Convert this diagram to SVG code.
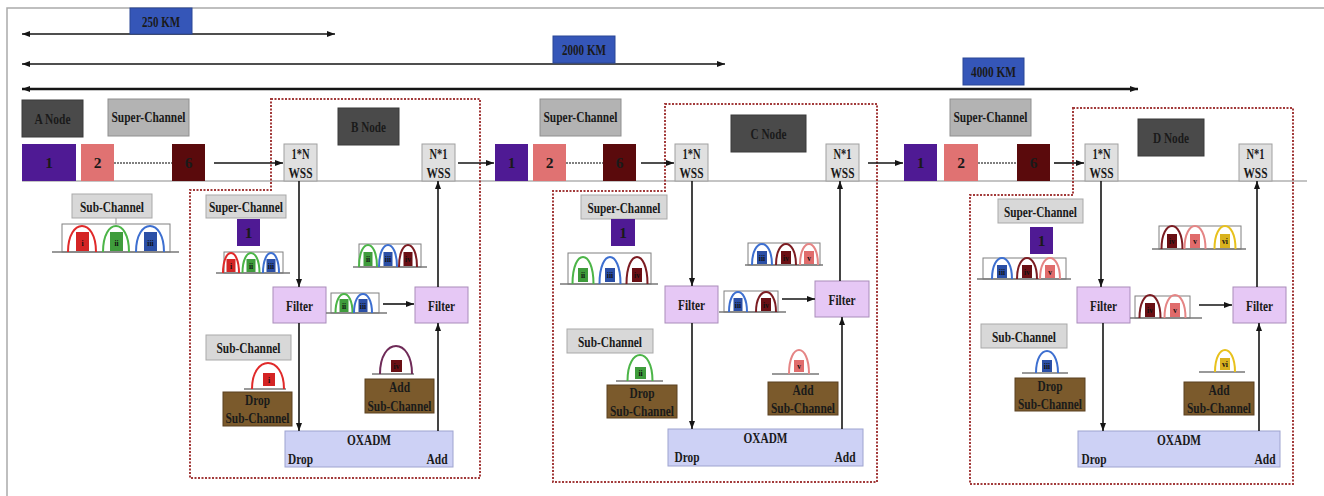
<svg xmlns="http://www.w3.org/2000/svg" width="1324" height="496" viewBox="0 0 1324 496">
<defs>
<style>
.t{font-family:"Liberation Serif","Times New Roman",serif;font-weight:bold;font-size:15.5px;fill:#1a1a1a;text-anchor:middle}
.q{font-family:"Liberation Serif","Times New Roman",serif;font-weight:bold;font-size:7.5px;fill:#111;text-anchor:middle}
.km{fill:#3556b8;stroke:#2a4796;stroke-width:1}
.dk{fill:#4a4a4a;stroke:#3a3a3a;stroke-width:1}
.sc{fill:#b3b3b3;stroke:#8f8f8f;stroke-width:1}
.lg{fill:#d8d8d8;stroke:#a9a9a9;stroke-width:1}
.wss{fill:#e0e0e0;stroke:#a0a0a0;stroke-width:1}
.flt{fill:#e6c8f5;stroke:#a98cba;stroke-width:1}
.ox{fill:#cdd1f5;stroke:#9ea3cf;stroke-width:1}
.br{fill:#7b5a2c;stroke:#5b4020;stroke-width:1}
.p1{fill:#4f1a94}.p2{fill:#e07272}.p6{fill:#5a0a0c}
.bk{fill:none;stroke:#808080;stroke-width:1}
.bl{stroke:#777;stroke-width:1.5}
.arc{fill:none;stroke-width:2}
.c1{stroke:#e02a2a}.c2{stroke:#4cb548}.c3{stroke:#3d6fd0}.c4{stroke:#7c1c22}.c5{stroke:#e58585}.c6{stroke:#e8c11c}.c7{stroke:#6f2b58}
.f1{fill:#d42424}.f2{fill:#3f9c3c}.f3{fill:#2b4fa6}.f4{fill:#6a0f14}.f5{fill:#e06c6c}.f6{fill:#d9b21e}
.ar{stroke:#151515;stroke-width:1.6;fill:none;marker-end:url(#ah)}
.dist{stroke:#151515;fill:none;marker-start:url(#ah);marker-end:url(#ah)}
.node{fill:none;stroke:#a23a3a;stroke-width:2;stroke-dasharray:2 1.5}
</style>
<marker id="ah" viewBox="0 0 8 6" markerUnits="userSpaceOnUse" markerWidth="8" markerHeight="6" refX="8" refY="3" orient="auto-start-reverse">
<path d="M0 0 L8 3 L0 6 Z" fill="#151515"/>
</marker>
</defs>
<rect width="1324" height="496" fill="#fff"/>
<path d="M7 496 V8 H1324" fill="none" stroke="#aaa" stroke-width="1.5"/>

<!-- distance scale -->
<g id="distances">
<line class="dist" x1="22" y1="34" x2="335" y2="34" stroke-width="1.6"/>
<line class="dist" x1="22" y1="64" x2="725" y2="64" stroke-width="1.6"/>
<line class="dist" x1="22" y1="89" x2="1138" y2="89" stroke-width="2.4"/>
<rect class="km" x="130" y="8" width="62" height="26"/>
<text class="t" x="161" y="26.5" textLength="38" lengthAdjust="spacingAndGlyphs">250 KM</text>
<rect class="km" x="553" y="36" width="62" height="27"/>
<text class="t" x="584" y="55" textLength="44" lengthAdjust="spacingAndGlyphs">2000 KM</text>
<rect class="km" x="963" y="58" width="61" height="27"/>
<text class="t" x="993.5" y="77" textLength="45" lengthAdjust="spacingAndGlyphs">4000 KM</text>
</g>

<!-- fibre line -->
<line x1="22" y1="181" x2="1307" y2="181" stroke="#8a8a8a" stroke-width="1.2"/>

<!-- node borders -->
<g id="borders">
<path class="node" d="M271 99 H480 V478 H190 V190 H271 Z"/>
<path class="node" d="M665 104 H877 V482 H553 V191 H665 Z"/>
<path class="node" d="M1073 108 H1293 V484 H970 V195 H1073 Z"/>
</g>

<!-- A node and first super-channel -->
<g id="node-a">
<rect class="dk" x="22" y="100" width="61" height="37"/>
<text class="t" x="52.5" y="124" textLength="36" lengthAdjust="spacingAndGlyphs">A Node</text>
</g>
<g id="super-ab">
<rect class="sc" x="108" y="99" width="81" height="37"/>
<text class="t" x="148.5" y="122" textLength="74" lengthAdjust="spacingAndGlyphs">Super-Channel</text>
<rect class="p1" x="22" y="144" width="54" height="37"/><text class="t" x="49" y="168">1</text>
<rect class="p2" x="81" y="144" width="33" height="37"/><text class="t" x="97.5" y="168">2</text>
<line x1="114" y1="163" x2="172" y2="163" stroke="#555" stroke-width="1.5" stroke-dasharray="2 1"/>
<rect class="p6" x="172" y="144" width="33" height="37"/><text class="t" x="188.5" y="168">6</text>
</g>
<g id="legend-a">
<rect class="lg" x="72" y="194" width="80" height="24"/>
<text class="t" x="112" y="211.5" textLength="64" lengthAdjust="spacingAndGlyphs">Sub-Channel</text>
<line x1="116" y1="218" x2="116" y2="224" stroke="#999" stroke-width="1"/>
<rect class="bk" x="62" y="224" width="108" height="28"/>
<line class="bl" x1="52" y1="252" x2="179" y2="252"/>
<rect class="f1" x="76" y="232" width="13" height="19"/><text class="q" x="82.5" y="246" font-size="9">i</text>
<rect class="f2" x="110" y="232" width="13" height="19"/><text class="q" x="116.5" y="246" font-size="9">ii</text>
<rect class="f3" x="144" y="232" width="13" height="19"/><text class="q" x="150.5" y="246" font-size="9">iii</text>
<path class="arc c1" d="M68 252 C68 217.4 96 217.4 96 252"/>
<path class="arc c2" d="M103 252 C103 217.4 129 217.4 129 252"/>
<path class="arc c3" d="M136 252 C136 217.4 164 217.4 164 252"/>
</g>

<!-- B node -->
<g id="node-b">
<rect class="wss" x="284" y="144" width="33" height="37"/>
<text class="t" x="300.5" y="159" textLength="18" lengthAdjust="spacingAndGlyphs">1*N</text>
<text class="t" x="300.5" y="177.5" textLength="24" lengthAdjust="spacingAndGlyphs">WSS</text>
<rect class="dk" x="338" y="108" width="61" height="37"/>
<text class="t" x="368.5" y="131.5" textLength="35" lengthAdjust="spacingAndGlyphs">B Node</text>
<rect class="wss" x="422" y="144" width="33" height="37"/>
<text class="t" x="438.5" y="159" textLength="18" lengthAdjust="spacingAndGlyphs">N*1</text>
<text class="t" x="438.5" y="177.5" textLength="24" lengthAdjust="spacingAndGlyphs">WSS</text>

<rect class="lg" x="206" y="195" width="80" height="23"/>
<text class="t" x="246" y="212" textLength="74" lengthAdjust="spacingAndGlyphs">Super-Channel</text>
<rect class="p1" x="237" y="219" width="23" height="27"/><text class="t" x="248.5" y="238">1</text>
<rect class="bk" x="224" y="252" width="59" height="21"/>
<line class="bl" x1="216" y1="273" x2="290" y2="273"/>
<rect class="f1" x="226.5" y="259" width="9" height="13"/><text class="q" x="231" y="269">i</text>
<rect class="f2" x="246.5" y="259" width="9" height="13"/><text class="q" x="251" y="269">ii</text>
<rect class="f3" x="266.5" y="259" width="9" height="13"/><text class="q" x="271" y="269">iii</text>
<path class="arc c1" d="M223 273 C223 246.4 239 246.4 239 273"/>
<path class="arc c2" d="M242.5 273 C242.5 246.4 259.5 246.4 259.5 273"/>
<path class="arc c3" d="M263 273 C263 246.4 279 246.4 279 273"/>

<rect class="bk" x="359" y="244" width="62" height="23"/>
<line class="bl" x1="353" y1="267" x2="427" y2="267"/>
<rect class="f2" x="363.5" y="252" width="9" height="14"/><text class="q" x="368" y="262">ii</text>
<rect class="f3" x="383.5" y="252" width="9" height="14"/><text class="q" x="388" y="262">iii</text>
<rect class="f4" x="403.5" y="252" width="9" height="14"/><text class="q" x="408" y="262">iv</text>
<path class="arc c2" d="M359 267 C359 237.7 377 237.7 377 267"/>
<path class="arc c3" d="M379 267 C379 237.7 397 237.7 397 267"/>
<path class="arc c4" d="M399 267 C399 237.7 417 237.7 417 267"/>

<rect class="flt" x="273" y="287" width="53" height="36"/>
<text class="t" x="299.5" y="310.5" textLength="27" lengthAdjust="spacingAndGlyphs">Filter</text>
<rect class="flt" x="415" y="287" width="53" height="36"/>
<text class="t" x="441.5" y="310.5" textLength="27" lengthAdjust="spacingAndGlyphs">Filter</text>
<rect class="bk" x="331" y="293" width="48" height="20"/>
<line class="bl" x1="326" y1="313" x2="387" y2="313"/>
<rect class="f2" x="339.5" y="299" width="9" height="13"/><text class="q" x="344" y="309">ii</text>
<rect class="f3" x="358.5" y="299" width="9" height="13"/><text class="q" x="363" y="309">iii</text>
<path class="arc c2" d="M335.5 313 C335.5 287.7 352.5 287.7 352.5 313"/>
<path class="arc c3" d="M354 313 C354 287.7 372 287.7 372 313"/>

<rect class="lg" x="206" y="335" width="85" height="25"/>
<text class="t" x="248.5" y="352.5" textLength="64" lengthAdjust="spacingAndGlyphs">Sub-Channel</text>
<line class="bl" x1="244" y1="389" x2="286" y2="389"/>
<rect class="f1" x="263" y="373" width="12" height="13"/><text class="q" x="269" y="383">i</text>
<path class="arc c1" d="M252 389 C252 354.4 284 354.4 284 389"/>
<rect class="br" x="223" y="392" width="69" height="34"/>
<text class="t" x="257.5" y="405" textLength="25" lengthAdjust="spacingAndGlyphs">Drop</text>
<text class="t" x="257.5" y="423" textLength="64" lengthAdjust="spacingAndGlyphs">Sub-Channel</text>

<line class="bl" x1="372" y1="374" x2="414" y2="374"/>
<rect class="f4" x="391" y="360" width="11" height="12"/><text class="q" x="396.5" y="369">iv</text>
<path class="arc c7" d="M380 374 C380 336.7 412 336.7 412 374"/>
<rect class="br" x="365" y="379" width="69" height="34"/>
<text class="t" x="399.5" y="392" textLength="21" lengthAdjust="spacingAndGlyphs">Add</text>
<text class="t" x="399.5" y="410.5" textLength="64" lengthAdjust="spacingAndGlyphs">Sub-Channel</text>

<rect class="ox" x="285" y="431" width="168" height="36"/>
<text class="t" x="369" y="445" textLength="44" lengthAdjust="spacingAndGlyphs">OXADM</text>
<text class="t" x="300.5" y="464" textLength="25" lengthAdjust="spacingAndGlyphs">Drop</text>
<text class="t" x="437" y="464" textLength="21" lengthAdjust="spacingAndGlyphs">Add</text>
</g>

<!-- super-channel between B and C -->
<g id="super-bc">
<rect class="sc" x="540" y="99" width="81" height="37"/>
<text class="t" x="580.5" y="122" textLength="74" lengthAdjust="spacingAndGlyphs">Super-Channel</text>
<rect class="p1" x="495" y="144" width="33" height="37"/><text class="t" x="511.5" y="168">1</text>
<rect class="p2" x="533" y="144" width="33" height="37"/><text class="t" x="549.5" y="168">2</text>
<line x1="566" y1="163" x2="603" y2="163" stroke="#555" stroke-width="1.5" stroke-dasharray="2 1"/>
<rect class="p6" x="603" y="144" width="33" height="37"/><text class="t" x="619.5" y="168">6</text>
</g>

<!-- C node -->
<g id="node-c">
<rect class="wss" x="675" y="144" width="33" height="37"/>
<text class="t" x="691.5" y="159" textLength="18" lengthAdjust="spacingAndGlyphs">1*N</text>
<text class="t" x="691.5" y="177.5" textLength="24" lengthAdjust="spacingAndGlyphs">WSS</text>
<rect class="dk" x="731" y="115" width="75" height="37"/>
<text class="t" x="768.5" y="138.5" textLength="36" lengthAdjust="spacingAndGlyphs">C Node</text>
<rect class="wss" x="826" y="144" width="33" height="37"/>
<text class="t" x="842.5" y="159" textLength="18" lengthAdjust="spacingAndGlyphs">N*1</text>
<text class="t" x="842.5" y="177.5" textLength="24" lengthAdjust="spacingAndGlyphs">WSS</text>

<rect class="lg" x="581" y="195" width="86" height="24"/>
<text class="t" x="624" y="212.5" textLength="73" lengthAdjust="spacingAndGlyphs">Super-Channel</text>
<rect class="p1" x="611" y="219" width="24" height="27"/><text class="t" x="623" y="238">1</text>
<rect class="bk" x="568" y="253" width="83" height="31"/>
<line class="bl" x1="560" y1="284" x2="658" y2="284"/>
<rect class="f2" x="578" y="268" width="10" height="14"/><text class="q" x="583" y="278">ii</text>
<rect class="f3" x="605" y="268" width="10" height="14"/><text class="q" x="610" y="278">iii</text>
<rect class="f4" x="632" y="268" width="10" height="14"/><text class="q" x="637" y="278">iv</text>
<path class="arc c2" d="M572.5 284 C572.5 248 593.5 248 593.5 284"/>
<path class="arc c3" d="M599.5 284 C599.5 248 620.5 248 620.5 284"/>
<path class="arc c4" d="M626.5 284 C626.5 248 647.5 248 647.5 284"/>

<rect class="bk" x="748" y="243" width="72" height="22"/>
<line class="bl" x1="745" y1="265" x2="823" y2="265"/>
<rect class="f3" x="757" y="251" width="10" height="13"/><text class="q" x="762" y="261">iii</text>
<rect class="f4" x="781" y="251" width="10" height="13"/><text class="q" x="786" y="261">iv</text>
<rect class="f5" x="804" y="251" width="10" height="13"/><text class="q" x="809" y="261">v</text>
<path class="arc c3" d="M752 265 C752 237 772 237 772 265"/>
<path class="arc c4" d="M776 265 C776 237 796 237 796 265"/>
<path class="arc c5" d="M800 265 C800 237 818 237 818 265"/>

<rect class="flt" x="665" y="286" width="53" height="37"/>
<text class="t" x="691.5" y="310" textLength="27" lengthAdjust="spacingAndGlyphs">Filter</text>
<rect class="flt" x="815" y="281" width="54" height="36"/>
<text class="t" x="842" y="304.5" textLength="27" lengthAdjust="spacingAndGlyphs">Filter</text>
<rect class="bk" x="724" y="291" width="54" height="21"/>
<line class="bl" x1="719" y1="312" x2="786" y2="312"/>
<rect class="f3" x="733.5" y="298" width="9" height="13"/><text class="q" x="738" y="308">iii</text>
<rect class="f4" x="761" y="298" width="10" height="13"/><text class="q" x="766" y="308">iv</text>
<path class="arc c3" d="M729 312 C729 285.4 747 285.4 747 312"/>
<path class="arc c4" d="M756 312 C756 285.4 776 285.4 776 312"/>

<rect class="lg" x="567" y="329" width="86" height="24"/>
<text class="t" x="610" y="346.5" textLength="64" lengthAdjust="spacingAndGlyphs">Sub-Channel</text>
<line class="bl" x1="616" y1="381" x2="663" y2="381"/>
<rect class="f2" x="635" y="367" width="11" height="12"/><text class="q" x="640.5" y="376">ii</text>
<path class="arc c2" d="M627.5 381 C627.5 346.4 652.5 346.4 652.5 381"/>
<rect class="br" x="607" y="385" width="70" height="33"/>
<text class="t" x="642" y="398" textLength="25" lengthAdjust="spacingAndGlyphs">Drop</text>
<text class="t" x="642" y="415.5" textLength="64" lengthAdjust="spacingAndGlyphs">Sub-Channel</text>

<line class="bl" x1="772" y1="374" x2="819" y2="374"/>
<rect class="f5" x="794" y="360" width="10" height="12"/><text class="q" x="799" y="369">v</text>
<path class="arc c5" d="M789 374 C789 342 809 342 809 374"/>
<rect class="br" x="768" y="382" width="70" height="33"/>
<text class="t" x="803" y="395" textLength="21" lengthAdjust="spacingAndGlyphs">Add</text>
<text class="t" x="803" y="412.5" textLength="64" lengthAdjust="spacingAndGlyphs">Sub-Channel</text>

<rect class="ox" x="668" y="429" width="195" height="37"/>
<text class="t" x="765.5" y="443" textLength="44" lengthAdjust="spacingAndGlyphs">OXADM</text>
<text class="t" x="687" y="462" textLength="25" lengthAdjust="spacingAndGlyphs">Drop</text>
<text class="t" x="845" y="462" textLength="21" lengthAdjust="spacingAndGlyphs">Add</text>
</g>

<!-- super-channel between C and D -->
<g id="super-cd">
<rect class="sc" x="950" y="99" width="81" height="37"/>
<text class="t" x="990.5" y="122" textLength="74" lengthAdjust="spacingAndGlyphs">Super-Channel</text>
<rect class="p1" x="904" y="144" width="33" height="37"/><text class="t" x="920.5" y="168">1</text>
<rect class="p2" x="944" y="144" width="34" height="37"/><text class="t" x="961" y="168">2</text>
<line x1="978" y1="163" x2="1017" y2="163" stroke="#555" stroke-width="1.5" stroke-dasharray="2 1"/>
<rect class="p6" x="1017" y="144" width="33" height="37"/><text class="t" x="1033.5" y="168">6</text>
</g>

<!-- D node -->
<g id="node-d">
<rect class="wss" x="1085" y="144" width="33" height="37"/>
<text class="t" x="1101.5" y="159" textLength="18" lengthAdjust="spacingAndGlyphs">1*N</text>
<text class="t" x="1101.5" y="177.5" textLength="24" lengthAdjust="spacingAndGlyphs">WSS</text>
<rect class="dk" x="1138" y="119" width="66" height="37"/>
<text class="t" x="1171" y="142.5" textLength="36" lengthAdjust="spacingAndGlyphs">D Node</text>
<rect class="wss" x="1239" y="144" width="33" height="37"/>
<text class="t" x="1255.5" y="159" textLength="18" lengthAdjust="spacingAndGlyphs">N*1</text>
<text class="t" x="1255.5" y="177.5" textLength="24" lengthAdjust="spacingAndGlyphs">WSS</text>

<rect class="lg" x="998" y="199" width="85" height="24"/>
<text class="t" x="1040.5" y="216.5" textLength="73" lengthAdjust="spacingAndGlyphs">Super-Channel</text>
<rect class="p1" x="1030" y="227" width="23" height="27"/><text class="t" x="1041.5" y="246">1</text>
<rect class="bk" x="983" y="258" width="83" height="21"/>
<line class="bl" x1="977" y1="279" x2="1071" y2="279"/>
<rect class="f3" x="997" y="265" width="10" height="13"/><text class="q" x="1002" y="275">iii</text>
<rect class="f4" x="1022" y="265" width="10" height="13"/><text class="q" x="1027" y="275">iv</text>
<rect class="f5" x="1045" y="265" width="10" height="13"/><text class="q" x="1050" y="275">v</text>
<path class="arc c3" d="M992 279 C992 251 1012 251 1012 279"/>
<path class="arc c4" d="M1017 279 C1017 251 1037 251 1037 279"/>
<path class="arc c5" d="M1040 279 C1040 251 1060 251 1060 279"/>

<rect class="bk" x="1159" y="226" width="82" height="23"/>
<line class="bl" x1="1152" y1="249" x2="1246" y2="249"/>
<rect class="f4" x="1167" y="234" width="10" height="14"/><text class="q" x="1172" y="244">iv</text>
<rect class="f5" x="1190" y="234" width="10" height="14"/><text class="q" x="1195" y="244">v</text>
<rect class="f6" x="1220" y="234" width="10" height="14"/><text class="q" x="1225" y="244">vi</text>
<path class="arc c4" d="M1161.5 249 C1161.5 218.4 1182.5 218.4 1182.5 249"/>
<path class="arc c5" d="M1184.5 249 C1184.5 218.4 1205.5 218.4 1205.5 249"/>
<path class="arc c6" d="M1214.5 249 C1214.5 218.4 1235.5 218.4 1235.5 249"/>

<rect class="flt" x="1077" y="287" width="53" height="36"/>
<text class="t" x="1103.5" y="310.5" textLength="27" lengthAdjust="spacingAndGlyphs">Filter</text>
<rect class="flt" x="1233" y="287" width="53" height="36"/>
<text class="t" x="1259.5" y="310.5" textLength="27" lengthAdjust="spacingAndGlyphs">Filter</text>
<rect class="bk" x="1135" y="296" width="55" height="22"/>
<line class="bl" x1="1130" y1="318" x2="1202" y2="318"/>
<rect class="f4" x="1145" y="303" width="10" height="14"/><text class="q" x="1150" y="313">iv</text>
<rect class="f5" x="1170" y="303" width="10" height="14"/><text class="q" x="1175" y="313">v</text>
<path class="arc c4" d="M1139.5 318 C1139.5 287.4 1160.5 287.4 1160.5 318"/>
<path class="arc c5" d="M1164.5 318 C1164.5 287.4 1185.5 287.4 1185.5 318"/>

<rect class="lg" x="981" y="324" width="86" height="24"/>
<text class="t" x="1024" y="341.5" textLength="64" lengthAdjust="spacingAndGlyphs">Sub-Channel</text>
<line class="bl" x1="1022" y1="373" x2="1068" y2="373"/>
<rect class="f3" x="1042" y="360" width="10" height="12"/><text class="q" x="1047" y="369">iii</text>
<path class="arc c3" d="M1036 373 C1036 343.7 1058 343.7 1058 373"/>
<rect class="br" x="1015" y="378" width="70" height="33"/>
<text class="t" x="1050" y="391" textLength="25" lengthAdjust="spacingAndGlyphs">Drop</text>
<text class="t" x="1050" y="408.5" textLength="64" lengthAdjust="spacingAndGlyphs">Sub-Channel</text>

<line class="bl" x1="1199" y1="372" x2="1245" y2="372"/>
<rect class="f6" x="1220" y="358" width="10" height="12"/><text class="q" x="1225" y="367">vi</text>
<path class="arc c6" d="M1215 372 C1215 342.7 1235 342.7 1235 372"/>
<rect class="br" x="1184" y="382" width="70" height="33"/>
<text class="t" x="1219" y="395" textLength="21" lengthAdjust="spacingAndGlyphs">Add</text>
<text class="t" x="1219" y="412.5" textLength="64" lengthAdjust="spacingAndGlyphs">Sub-Channel</text>

<rect class="ox" x="1078" y="431" width="202" height="36"/>
<text class="t" x="1179" y="445" textLength="44" lengthAdjust="spacingAndGlyphs">OXADM</text>
<text class="t" x="1094" y="464" textLength="25" lengthAdjust="spacingAndGlyphs">Drop</text>
<text class="t" x="1265" y="464" textLength="21" lengthAdjust="spacingAndGlyphs">Add</text>
</g>

<!-- connectors -->
<g id="connectors">
<line class="ar" x1="214" y1="163" x2="283" y2="163"/>
<line class="ar" x1="458" y1="163" x2="494" y2="163"/>
<line class="ar" x1="641" y1="163" x2="674" y2="163"/>
<line class="ar" x1="868" y1="163" x2="903" y2="163"/>
<line class="ar" x1="1054" y1="163" x2="1084" y2="163"/>

<line class="ar" x1="299" y1="181" x2="299" y2="287"/>
<line class="ar" x1="383" y1="304" x2="414" y2="304"/>
<line class="ar" x1="438" y1="287" x2="438" y2="181"/>
<line class="ar" x1="299" y1="323" x2="299" y2="431"/>
<line class="ar" x1="438" y1="431" x2="438" y2="323"/>

<line class="ar" x1="692" y1="181" x2="692" y2="286"/>
<line class="ar" x1="782" y1="299" x2="815" y2="299"/>
<line class="ar" x1="840" y1="281" x2="840" y2="181"/>
<line class="ar" x1="692" y1="323" x2="692" y2="429"/>
<line class="ar" x1="842" y1="429" x2="842" y2="317"/>

<line class="ar" x1="1101" y1="181" x2="1101" y2="287"/>
<line class="ar" x1="1199" y1="305" x2="1232" y2="305"/>
<line class="ar" x1="1257" y1="287" x2="1257" y2="181"/>
<line class="ar" x1="1103" y1="323" x2="1103" y2="431"/>
<line class="ar" x1="1259" y1="431" x2="1259" y2="323"/>
</g>
</svg>
